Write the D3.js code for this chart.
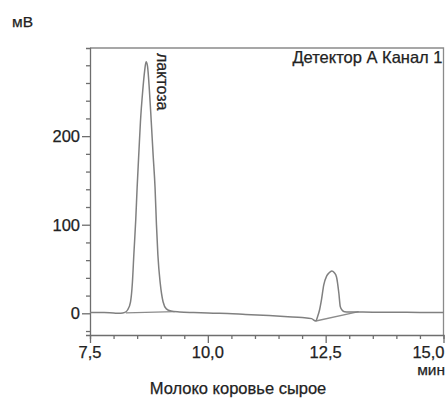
<!DOCTYPE html>
<html>
<head>
<meta charset="utf-8">
<script src="https://cdn.jsdelivr.net/npm/d3@7"></script>
<style>
    html, body { margin: 0; padding: 0; background: #fff; }
    #wrapper { width: 446px; height: 398px; }
    text { font-family: "Liberation Sans", Arial, sans-serif; fill: #222; stroke: #222; stroke-width: 0.25px; }
</style>
</head>
<body>
<div id="wrapper"></div>
<script>
// chromatogram
const time = [7.5, 7.8, 8.0, 8.15, 8.24, 8.30, 8.36, 8.40, 8.43, 8.47, 8.50, 8.54, 8.57, 8.62, 8.66, 8.69,
    8.72, 8.76, 8.80, 8.84, 8.88, 8.91, 8.94, 8.99, 9.05, 9.12, 9.22, 9.4, 9.7, 10.0, 10.25, 10.8, 11.3,
    11.7, 12.0, 12.2, 12.29, 12.33, 12.37, 12.41, 12.46, 12.52, 12.57, 12.63, 12.68, 12.73, 12.78, 12.81,
    12.85, 12.90, 13.0, 13.5, 14.0, 14.5, 15.0];
const signal = [1, 0.8, 0.3, 0, 1, 4, 13, 35, 66, 105, 142, 185, 216, 252, 274, 284,
    279, 252, 216, 178, 142, 100, 66, 34, 13, 5, 2.5, 1.5, 0.8, 0.3, 0, -1.3, -2.6,
    -3.8, -4.8, -6, -8.7, -3.5, 3.7, 15, 32, 42, 45.5, 47.8, 46, 41, 22.6, 7.5,
    3.5, 1.8, 1.5, 1.3, 1.2, 1, 1];

// integration baselines [start, end] of each peak
const baseTimes = [[8.26, 9.3], [12.29, 13.2]];
const baseValues = [[0.5, 1.8], [-8.7, 1.8]];

const peakName = 'лактоза';
const peakTime = 8.69;

const xTicks = [7.5, 10, 12.5, 15];
const xTickLabels = ['7,5', '10,0', '12,5', '15,0'];
const yTicks = [0, 100, 200];
const yTickLabels = ['0', '100', '200'];

const yUnit = 'мВ';
const xUnit = 'мин';
const channel = 'Детектор А Канал 1';
const title = 'Молоко коровье сырое';

function draw() {
    const data = time.map((t, i) => ({ t: t, v: signal[i] }));

    let dimensions = {
        width: 446,
        height: 398,
        margin: { top: 48, right: 2.5, bottom: 63, left: 90 },
    };
    dimensions.boundedWidth = dimensions.width - dimensions.margin.left - dimensions.margin.right;
    dimensions.boundedHeight = dimensions.height - dimensions.margin.top - dimensions.margin.bottom;

    const wrapper = d3.select('#wrapper')
        .append('svg')
        .attr('width', dimensions.width)
        .attr('height', dimensions.height);

    const bounds = wrapper.append('g')
        .attr('transform', `translate(${dimensions.margin.left}, ${dimensions.margin.top})`);

    const x = d3.scaleLinear()
        .domain([7.5, 15])
        .range([0, dimensions.boundedWidth]);

    const y = d3.scaleLinear()
        .domain([-24.5, 299.5])
        .range([dimensions.boundedHeight, 0]);

    // frame (top + right)
    bounds.append('path')
        .attr('d', `M0,0H${dimensions.boundedWidth}V${dimensions.boundedHeight}`)
        .attr('fill', 'none')
        .attr('stroke', '#8a8a8a')
        .attr('stroke-width', 1.3);

    // y axis, minor every 20
    const yAxis = bounds.append('g')
        .call(d3.axisLeft(y).tickValues(d3.range(-20, 281, 20)).tickSizeOuter(0)
            .tickSize(4).tickFormat(''));
    yAxis.selectAll('.tick line')
        .attr('x2', d => yTicks.includes(d) ? -8 : -4);
    yAxis.selectAll('line, path').attr('stroke', '#6e6e6e').attr('stroke-width', 1.3);

    bounds.append('g')
        .selectAll('text')
        .data(yTicks)
        .join('text')
        .attr('x', -10)
        .attr('y', d => y(d))
        .attr('dy', '0.36em')
        .attr('text-anchor', 'end')
        .style('font-size', '16.5px')
        .text((d, i) => yTickLabels[i]);

    // x axis, minor every 0.5
    const xAxis = bounds.append('g')
        .attr('transform', `translate(0, ${dimensions.boundedHeight})`)
        .call(d3.axisBottom(x).tickValues(d3.range(7.5, 15.01, 0.5)).tickSizeOuter(0)
            .tickSize(4).tickFormat(''));
    xAxis.selectAll('.tick line')
        .attr('y2', d => xTicks.some(t => Math.abs(t - d) < 1e-6) ? 8 : 4);
    xAxis.selectAll('line, path').attr('stroke', '#6e6e6e').attr('stroke-width', 1.3);

    bounds.append('g')
        .selectAll('text')
        .data(xTicks)
        .join('text')
        .attr('x', d => d === 15 ? x(d) + 1 : x(d))
        .attr('y', dimensions.boundedHeight + 23)
        .attr('text-anchor', d => d === 15 ? 'end' : 'middle')
        .style('font-size', '16.5px')
        .text((d, i) => xTickLabels[i]);

    // integration baselines
    const line = d3.line()
        .x(d => x(d.t))
        .y(d => y(d.v));

    bounds.append('g')
        .selectAll('path')
        .data(baseTimes.map((b, i) => [{ t: b[0], v: baseValues[i][0] }, { t: b[1], v: baseValues[i][1] }]))
        .join('path')
        .attr('d', line)
        .attr('fill', 'none')
        .attr('stroke', '#8c8c8c')
        .attr('stroke-width', 1.3);

    // trace
    bounds.append('path')
        .datum(data)
        .attr('d', line.curve(d3.curveMonotoneX))
        .attr('fill', 'none')
        .attr('stroke', '#808080')
        .attr('stroke-width', 1.5);

    // peak label, rotated
    bounds.append('text')
        .attr('transform', `translate(${x(peakTime) + 11}, 5) rotate(90)`)
        .style('font-size', '16px')
        .text(peakName);

    bounds.append('text')
        .attr('x', dimensions.boundedWidth - 1)
        .attr('y', 15)
        .attr('text-anchor', 'end')
        .style('font-size', '16.5px')
        .text(channel);

    wrapper.append('text')
        .attr('x', 12)
        .attr('y', 27)
        .style('font-size', '15.5px')
        .text(yUnit);

    wrapper.append('text')
        .attr('x', 445)
        .attr('y', 375)
        .attr('text-anchor', 'end')
        .style('font-size', '15.5px')
        .text(xUnit);

    wrapper.append('text')
        .attr('x', 238)
        .attr('y', 394)
        .attr('text-anchor', 'middle')
        .style('font-size', '16.5px')
        .text(title);
}

draw();
</script>
</body>
</html>
